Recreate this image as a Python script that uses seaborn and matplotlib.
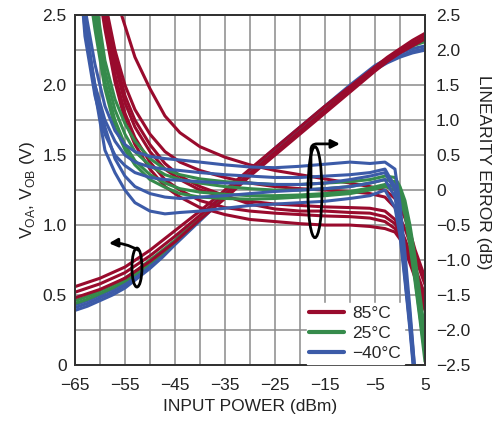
import numpy as np
import pandas as pd
import matplotlib
matplotlib.use("Agg")
import matplotlib.pyplot as plt
from matplotlib.patches import Ellipse
from matplotlib.lines import Line2D
import seaborn as sns

# ── Data ─────────────────────────────────────────────────
TEMPS = ["85°C", "25°C", "−40°C"]
COLORS = {"85°C": "#990B2D", "25°C": "#368B4C", "−40°C": "#3C5BA8"}

# input power grid for the linearity error traces (dBm)
X_ERR = [-65, -63, -61, -59, -57, -55, -53, -50, -47, -44, -40, -35, -30,
         -25, -20, -15, -10, -6, -3, -1, 0, 1, 2, 3, 4, 5]

# linearity error (dB), 85°C
ERR_85_A = [6, 5, 4.2, 3.4, 2.8, 2.35, 1.9, 1.45, 1.06, 0.82, 0.62, 0.47, 0.36,
            0.28, 0.22, 0.16, 0.1, 0.05, 0.0, -0.12, -0.25, -0.4, -0.6, -0.85, -1.05, -1.25]
ERR_85_B = [6, 5, 3.8, 2.7, 2.0, 1.5, 1.15, 0.8, 0.55, 0.4, 0.28, 0.18, 0.1,
            0.05, 0.02, 0.0, -0.02, -0.05, -0.1, -0.25, -0.4, -0.55, -0.75, -0.95, -1.15, -1.35]
ERR_85_C = [6, 4.8, 3.5, 2.5, 1.8, 1.25, 0.9, 0.55, 0.3, 0.15, 0.0, -0.1, -0.16,
            -0.2, -0.22, -0.24, -0.25, -0.26, -0.3, -0.42, -0.55, -0.7, -0.9, -1.1, -1.3, -1.5]
ERR_85_D = [6, 4.5, 3.3, 2.4, 1.65, 1.1, 0.75, 0.4, 0.15, 0.0, -0.15, -0.25, -0.3,
            -0.33, -0.35, -0.37, -0.38, -0.4, -0.45, -0.55, -0.65, -0.8, -1.0, -1.2, -1.45, -1.65]
ERR_85_E = [6, 4.4, 3.2, 2.3, 1.55, 1.0, 0.65, 0.3, 0.05, -0.1, -0.25, -0.35, -0.42,
            -0.45, -0.48, -0.5, -0.5, -0.52, -0.55, -0.6, -0.7, -0.85, -1.05, -1.25, -1.5, -1.72]
ERR_85_F = [6, 4.7, 3.6, 2.6, 1.9, 1.35, 1.0, 0.65, 0.38, 0.2, 0.05, -0.08, -0.2,
            -0.27, -0.3, -0.3, -0.32, -0.33, -0.38, -0.48, -0.6, -0.75, -0.95, -1.15, -1.38, -1.6]

# linearity error (dB), 25°C
ERR_25_A = [5, 3.6, 2.6, 1.7, 1.15, 0.8, 0.55, 0.35, 0.22, 0.15, 0.1, 0.05, 0.02,
            0.0, 0.0, 0.02, 0.05, 0.1, 0.15, 0.12, 0.0, -0.2, -0.6, -1.1, -1.65, -2.2]
ERR_25_B = [5, 3.4, 2.45, 1.55, 1.0, 0.65, 0.42, 0.22, 0.1, 0.02, -0.03, -0.06, -0.08,
            -0.08, -0.07, -0.05, -0.02, 0.03, 0.08, 0.05, -0.08, -0.3, -0.72, -1.25, -1.8, -2.35]
ERR_25_C = [5, 3.8, 2.8, 1.85, 1.3, 0.95, 0.7, 0.45, 0.3, 0.22, 0.16, 0.12, 0.1,
            0.08, 0.08, 0.1, 0.12, 0.15, 0.2, 0.18, 0.05, -0.15, -0.5, -0.95, -1.5, -2.05]
ERR_25_D = [5, 3.3, 2.3, 1.45, 0.9, 0.58, 0.36, 0.15, 0.04, -0.05, -0.1, -0.12, -0.13,
            -0.12, -0.1, -0.08, -0.05, 0.0, 0.05, 0.0, -0.12, -0.35, -0.8, -1.3, -1.85, -2.45]

# linearity error (dB), -40°C
ERR_M40_A = [4.5, 2.6, 1.8, 1.2, 0.85, 0.65, 0.55, 0.48, 0.45, 0.43, 0.4, 0.36, 0.33,
             0.32, 0.34, 0.37, 0.4, 0.38, 0.4, 0.3, -0.2, -0.9, -1.7, -2.6, -3.5, -4.5]
ERR_M40_B = [3.8, 2.3, 1.5, 1.0, 0.7, 0.5, 0.4, 0.33, 0.3, 0.28, 0.25, 0.22, 0.2,
             0.18, 0.18, 0.2, 0.22, 0.25, 0.3, 0.05, -0.45, -1.1, -1.8, -2.6, -3.4, -4.2]
ERR_M40_C = [4.0, 2.2, 1.35, 0.8, 0.5, 0.35, 0.25, 0.18, 0.15, 0.14, 0.12, 0.1, 0.1,
             0.08, 0.08, 0.1, 0.15, 0.2, 0.25, 0.0, -0.5, -1.2, -1.9, -2.7, -3.5, -4.3]
ERR_M40_D = [2.9, 2.5, 1.4, 0.57, 0.25, 0.0, -0.18, -0.3, -0.34, -0.32, -0.3, -0.26, -0.22,
             -0.2, -0.18, -0.16, -0.12, -0.08, 0.0, -0.25, -0.65, -1.3, -2.0, -2.8, -3.6, -4.4]
ERR_M40_E = [4.0, 2.4, 1.5, 0.9, 0.45, 0.2, 0.05, -0.05, -0.1, -0.12, -0.1, -0.08, -0.05,
             -0.02, 0.0, 0.02, 0.05, 0.1, 0.15, -0.1, -0.55, -1.25, -1.95, -2.75, -3.5, -4.3]

# input power grid for the output voltage traces (dBm)
X_V = [-65, -62.5, -60, -57.5, -55, -52.5, -50, -47.5, -45, -40, -35, -30, -25,
       -20, -15, -10, -5, -2.5, 0, 2.5, 5]

# output voltage (V)
V_85_A = [0.56, 0.59, 0.62, 0.66, 0.70, 0.76, 0.82, 0.89, 0.96, 1.10, 1.25, 1.40, 1.55,
          1.70, 1.85, 1.99, 2.13, 2.20, 2.26, 2.32, 2.37]
V_85_B = [0.52, 0.55, 0.58, 0.62, 0.66, 0.72, 0.78, 0.85, 0.92, 1.07, 1.22, 1.37, 1.52,
          1.67, 1.82, 1.97, 2.11, 2.18, 2.24, 2.30, 2.35]
V_85_C = [0.48, 0.51, 0.54, 0.58, 0.62, 0.68, 0.74, 0.81, 0.88, 1.04, 1.19, 1.35, 1.50,
          1.65, 1.80, 1.95, 2.10, 2.17, 2.23, 2.28, 2.33]
V_25_A = [0.46, 0.49, 0.53, 0.57, 0.62, 0.68, 0.75, 0.82, 0.89, 1.05, 1.21, 1.37, 1.52,
          1.67, 1.82, 1.97, 2.12, 2.19, 2.25, 2.29, 2.32]
V_25_B = [0.44, 0.47, 0.51, 0.55, 0.60, 0.66, 0.73, 0.80, 0.88, 1.04, 1.20, 1.36, 1.51,
          1.66, 1.81, 1.96, 2.11, 2.18, 2.24, 2.28, 2.31]
V_M40_A = [0.43, 0.46, 0.50, 0.54, 0.59, 0.66, 0.73, 0.81, 0.89, 1.06, 1.23, 1.39, 1.55,
           1.70, 1.85, 2.00, 2.14, 2.19, 2.23, 2.26, 2.28]
V_M40_B = [0.41, 0.44, 0.48, 0.52, 0.57, 0.64, 0.71, 0.79, 0.87, 1.04, 1.21, 1.37, 1.53,
           1.68, 1.83, 1.98, 2.12, 2.17, 2.21, 2.24, 2.26]
V_M40_C = [0.39, 0.42, 0.46, 0.50, 0.55, 0.62, 0.69, 0.77, 0.86, 1.03, 1.20, 1.36, 1.52,
           1.67, 1.82, 1.97, 2.11, 2.16, 2.20, 2.23, 2.25]

X_TICKS = list(range(-65, 6, 5))
X_LABELS = ["−65", "", "−55", "", "−45", "", "−35", "", "−25", "", "−15", "", "−5", "", "5"]
V_TICKS = [0, 0.25, 0.5, 0.75, 1.0, 1.25, 1.5, 1.75, 2.0, 2.25, 2.5]
V_LABELS = ["0", "", "0.5", "", "1.0", "", "1.5", "", "2.0", "", "2.5"]
E_TICKS = [-2.5, -2.0, -1.5, -1.0, -0.5, 0, 0.5, 1.0, 1.5, 2.0, 2.5]
E_LABELS = ["−2.5", "−2.0", "−1.5", "−1.0", "−0.5", "0", "0.5", "1.0", "1.5", "2.0", "2.5"]


# ── Build long tables for seaborn ────────────────────────
def long_table(x, groups, col):
    rows = []
    for temp, curves in groups.items():
        for k, curve in enumerate(curves):
            for xi, yi in zip(x, curve):
                rows.append({"x": xi, col: yi, "temp": temp, "unit": f"{temp}-{k}"})
    return pd.DataFrame(rows)


df_err = long_table(X_ERR, {
    "85°C": [ERR_85_A, ERR_85_B, ERR_85_C, ERR_85_D, ERR_85_E, ERR_85_F],
    "25°C": [ERR_25_A, ERR_25_B, ERR_25_C, ERR_25_D],
    "−40°C": [ERR_M40_A, ERR_M40_B, ERR_M40_C, ERR_M40_D, ERR_M40_E],
}, "err")

df_v = long_table(X_V, {
    "−40°C": [V_M40_A, V_M40_B, V_M40_C],
    "25°C": [V_25_A, V_25_B],
    "85°C": [V_85_A, V_85_B, V_85_C],
}, "v")

# ── Style ────────────────────────────────────────────────
sns.set_style("white")
plt.rcParams["font.family"] = ["Liberation Sans Narrow", "Liberation Sans", "DejaVu Sans"]
plt.rcParams["axes.unicode_minus"] = True

fig = plt.figure(figsize=(4.93, 4.21), dpi=100)
ax = fig.add_axes([0.152, 0.133, 0.710, 0.831])
ax2 = ax.twinx()

# voltage traces (left axis)
sns.lineplot(data=df_v, x="x", y="v", hue="temp", units="unit", estimator=None,
             hue_order=["−40°C", "25°C", "85°C"], palette=COLORS, lw=2.2,
             legend=False, sort=False, ax=ax)

# linearity error traces (right axis)
sns.lineplot(data=df_err, x="x", y="err", hue="temp", units="unit", estimator=None,
             hue_order=TEMPS, palette=COLORS, lw=2.2,
             legend=False, sort=False, ax=ax2)

ax.set_xlim(-65, 5)
ax.set_ylim(0, 2.5)
ax2.set_ylim(-2.5, 2.5)

ax.set_xticks(X_TICKS)
ax.set_xticklabels(X_LABELS)
ax.set_yticks(V_TICKS)
ax.set_yticklabels(V_LABELS)
ax2.set_yticks(E_TICKS)
ax2.set_yticklabels(E_LABELS)

ax.grid(True, color="#8a8a8a", lw=1.1)
ax.set_axisbelow(True)
ax2.grid(False)
for a in (ax, ax2):
    a.tick_params(length=0, labelsize=12.5, colors="#222222", pad=8)
    for s in a.spines.values():
        s.set_color("#333333")
        s.set_linewidth(1.4)
ax.tick_params(axis="x", pad=9)
ax.tick_params(axis="y", pad=6)

ax.set_xlabel("INPUT POWER (dBm)", fontsize=12.5, color="#222222", labelpad=5)
ax.set_ylabel("V$_{\\mathregular{OA}}$, V$_{\\mathregular{OB}}$ (V)",
              fontsize=12.5, color="#222222", labelpad=4)
ax2.set_ylabel("LINEARITY ERROR (dB)", fontsize=12.5, color="#222222", rotation=270)
ax2.yaxis.set_label_coords(1.19, 0.55)

# ── Annotations (ellipse + arrow markers) ────────────────
ax2.add_patch(Ellipse((-17, -0.03), 2.8, 1.3, fill=False, ec="black", lw=2, zorder=5))
ax2.annotate("", xy=(-12, 0.66), xytext=(-17.8, 0.04),
             arrowprops=dict(arrowstyle="-|>,head_length=0.5,head_width=0.25",
                             connectionstyle="angle,angleA=90,angleB=0,rad=6",
                             color="black", lw=2, shrinkA=0, shrinkB=0), zorder=6)

ax2.add_patch(Ellipse((-52.6, -1.107), 2.0, 0.557, fill=False, ec="black", lw=2, zorder=5))
ax2.annotate("", xy=(-58.2, -0.76), xytext=(-52.3, -0.86),
             arrowprops=dict(arrowstyle="-|>,head_length=0.5,head_width=0.25",
                             connectionstyle="arc3,rad=0.15",
                             color="black", lw=2, shrinkA=0, shrinkB=0), zorder=6)

# legend
handles = [Line2D([0], [0], color=COLORS[t], lw=3) for t in TEMPS]
leg = ax2.legend(handles, TEMPS, loc="lower right", bbox_to_anchor=(0.94, 0.003),
                 borderaxespad=0, frameon=True, fancybox=False, edgecolor="white",
                 framealpha=1, fontsize=12.5, handlelength=2.0, handletextpad=0.5,
                 labelspacing=0.3, borderpad=0.15)
leg.set_zorder(10)

fig.savefig("out.png", dpi=100)
